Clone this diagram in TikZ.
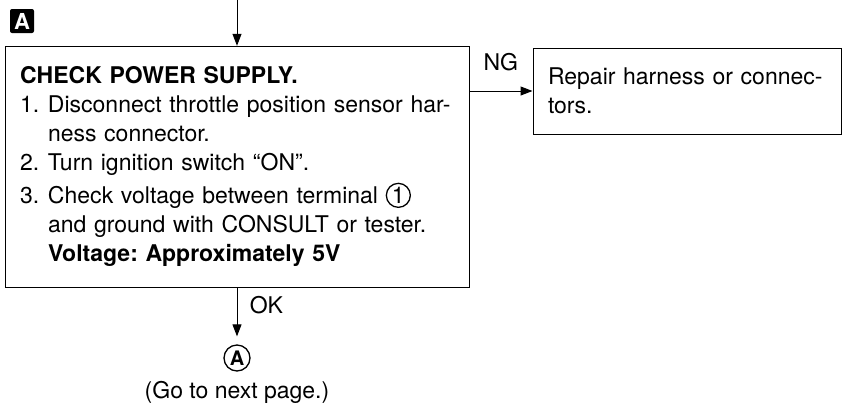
\documentclass[tikz,border=0pt]{standalone}
\usepackage{fontspec}
\setmainfont{TeX Gyre Heros}
\usetikzlibrary{arrows.meta,positioning}
\frenchspacing

\begin{document}
\begin{tikzpicture}[x=1pt, y=-1pt, >={Triangle[length=12pt,width=9pt]}, line width=1pt,
    font=\fontsize{23}{29}\selectfont]
    % Styles
    \tikzstyle{block} = [rectangle, draw, fill=white, align=left, inner xsep=15pt]
    \tikzstyle{roundmark} = [circle, draw, line width=1.3pt, inner sep=0pt, minimum size=26pt, font=\fontsize{20}{24}\selectfont\bfseries]
    \tikzstyle{line} = [draw, ->]

    \useasboundingbox (0,0) rectangle (843,407);

    % Nodes
    \node [fill=black, text=white, rounded corners=2pt, inner sep=0pt, minimum size=24pt, font=\fontsize{22}{24}\selectfont\bfseries] (secA) at (22,21) {A};
    \node [block, minimum width=464pt, minimum height=241pt, text width=434pt] (check) at (237,166.5) {%
        \textbf{CHECK POWER SUPPLY.}\\
        \makebox[28pt][l]{1.}\mbox{Disconnect throttle position sensor har-}\\
        \hspace*{28pt}ness connector.\\
        \makebox[28pt][l]{2.}Turn ignition switch “ON”.\\[4pt]
        \makebox[28pt][l]{3.}Check voltage between terminal \tikz[baseline=(one.base)] \node[circle, draw, line width=1.3pt, inner sep=0pt, minimum size=24pt] (one) {1};\\
        \hspace*{28pt}and ground with CONSULT or tester.\\
        \hspace*{28pt}\textbf{Voltage: Approximately 5V}};
    \node [block, minimum width=308pt, minimum height=86pt, text width=278pt] (repair) at (687,91) {Repair harness or connec-\\tors.};
    \node [roundmark] (circA) at (237,358) {A};
    \node [below=6pt of circA] (gonext) {(Go to next page.)};
    \node [coordinate] (entry) at (237,0) {};

    % Flow
    \path [line] (entry) -- (check);
    \path [line] (check.east |- repair.west) -- node[above=16pt] {NG} (repair.west);
    \path [line, shorten >=8pt] (check.south) -- node[pos=0.32, right=9pt] {OK} (circA);

\end{tikzpicture}
\end{document}
